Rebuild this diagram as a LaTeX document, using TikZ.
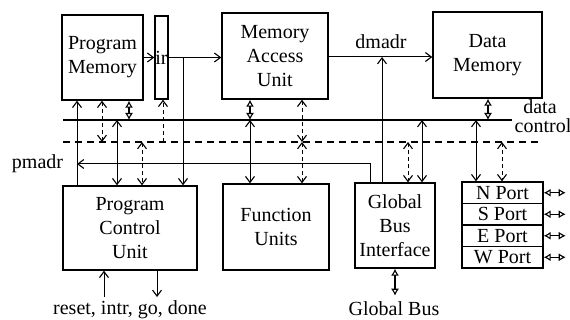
\documentclass[tikz,border=0pt]{standalone}
\usepackage{fontspec}
\setmainfont{Liberation Serif}
\usetikzlibrary{arrows.meta,calc}
\begin{document}
\begin{tikzpicture}[x=1pt,y=-1pt,
  font=\fontsize{20}{24}\selectfont,
  blk/.style={draw,line width=1.4pt,align=center,inner sep=0pt},
  conn/.style={line width=1pt},
  dconn/.style={line width=1pt,dash pattern=on 4pt off 3pt},
  tip/.style={-{Straight Barb[length=6pt,width=9pt,line width=1.1pt]}},
  bi/.style={{Straight Barb[length=6pt,width=9pt,line width=1.1pt]}-{Straight Barb[length=6pt,width=9pt,line width=1.1pt]}},
  dia/.style={line width=1.1pt,{Latex[open,length=7pt,width=8pt]}-{Latex[open,length=7pt,width=8pt]}},
  bus/.style={line width=1.4pt},
  dbus/.style={line width=1.2pt,dash pattern=on 7pt off 5pt},
  lbl/.style={inner sep=0pt}
]
\useasboundingbox (0,0) rectangle (570,320);

% blocks
\node[blk,minimum width=81pt,minimum height=85pt] (pm) at (102.5,57.5) {Program\\Memory};
\node[blk,minimum width=13pt,minimum height=83pt] (ir) at (161.5,57.5) {ir};
\node[blk,minimum width=106pt,minimum height=86pt] (mau) at (275,56) {Memory\\Access\\Unit};
\node[blk,minimum width=109pt,minimum height=86pt] (dm) at (487.5,55) {Data\\Memory};
\node[blk,minimum width=134pt,minimum height=84pt] (pcu) at (130,228) {Program\\Control\\Unit};
\node[blk,minimum width=106pt,minimum height=86pt] (fu) at (276,227) {Function\\Units};
\node[blk,minimum width=80pt,minimum height=85pt] (gbi) at (395,225.5) {Global\\Bus\\Interface};
\node[blk,minimum width=81pt,minimum height=21.5pt] (pn) at (502.5,192.75) {N Port};
\node[blk,minimum width=81pt,minimum height=21.5pt] (ps) at (502.5,214.25) {S Port};
\node[blk,minimum width=81pt,minimum height=21.5pt] (pe) at (502.5,235.75) {E Port};
\node[blk,minimum width=81pt,minimum height=21.5pt] (pw) at (502.5,257.25) {W Port};

% labels
\node[lbl] (lpmadr) at (37.5,164) {pmadr};
\node[lbl] (ldmadr) at (381,42) {dmadr};
\node[lbl] (ldata) at (540,107) {data};
\node[lbl] (lctrl) at (543,126) {control};
\node[lbl] (lreset) at (130,310) {reset, intr, go, done};
\node[lbl] (lgbus) at (394,309) {Global Bus};

% buses
\coordinate (dataL) at (63,120);
\coordinate (dataR) at (512,120);
\coordinate (ctrlL) at (63,142);
\coordinate (ctrlR) at (540,142);
\draw[bus] (dataL) -- (dataR);
\draw[dbus] (ctrlL) -- (ctrlR);

% tap coordinates
\coordinate (d1) at (129,120);
\coordinate (d2) at (117,120);
\coordinate (d3) at (250,120);
\coordinate (d4) at (422,120);
\coordinate (d5) at (488,120);
\coordinate (d6) at (476,120);
\coordinate (c1) at (102,142);
\coordinate (c2) at (163,142);
\coordinate (c3) at (142,142);
\coordinate (c4) at (302,142);
\coordinate (c5) at (408,142);
\coordinate (c6) at (502,142);
\coordinate (irdown) at (183,57.5);
\coordinate (g0) at (370,164);
\coordinate (g1) at (382,57);
\coordinate (pa) at (77,164);
\coordinate (r1) at (104,297);
\coordinate (r2) at (157,297);

% instruction path
\draw[conn,tip] (pm.east) -- (ir.west);
\draw[conn,tip] (ir.east) -- (ir.east -| mau.west);
\draw[conn,tip] (irdown) -- (irdown |- pcu.north);

% addresses
\draw[conn,tip] (mau.east |- g1) -- (dm.west |- g1);
\draw[conn,tip] (g1 |- gbi.north) -- (g1);
\draw[conn,tip] (g0 |- gbi.north) -- (g0) -- (pa);
\draw[conn,tip] (pa |- pcu.north) -- (pa |- pm.south);

% program memory / ir
\draw[dconn,bi] (c1 |- pm.south) -- (c1);
\draw[dia] (d1 |- pm.south) -- (d1);
\draw[dconn,tip] (c2) -- (c2 |- ir.south);

% program control unit
\draw[conn,bi] (d2) -- (d2 |- pcu.north);
\draw[dconn,bi] (c3) -- (c3 |- pcu.north);
\draw[conn,tip] (r1) -- (r1 |- pcu.south);
\draw[conn,tip] (r2 |- pcu.south) -- (r2);

% memory access unit / function units
\draw[dia] (d3 |- mau.south) -- (d3);
\draw[conn,bi] (d3) -- (d3 |- fu.north);
\draw[dconn,bi] (c4 |- mau.south) -- (c4);
\draw[dconn,bi] (c4) -- (c4 |- fu.north);

% global bus interface
\draw[dconn,bi] (c5) -- (c5 |- gbi.north);
\draw[conn,bi] (d4) -- (d4 |- gbi.north);
\draw[dia] (gbi.south) -- ++(0,27);

% data memory and ports
\draw[dia] (d5 |- dm.south) -- (d5);
\draw[conn,bi] (d6) -- (d6 |- pn.north);
\draw[dconn,bi] (c6) -- (c6 |- pn.north);
\draw[dia] (pn.east) -- ++(22,0);
\draw[dia] (ps.east) -- ++(22,0);
\draw[dia] (pe.east) -- ++(22,0);
\draw[dia] (pw.east) -- ++(22,0);
\end{tikzpicture}
\end{document}
